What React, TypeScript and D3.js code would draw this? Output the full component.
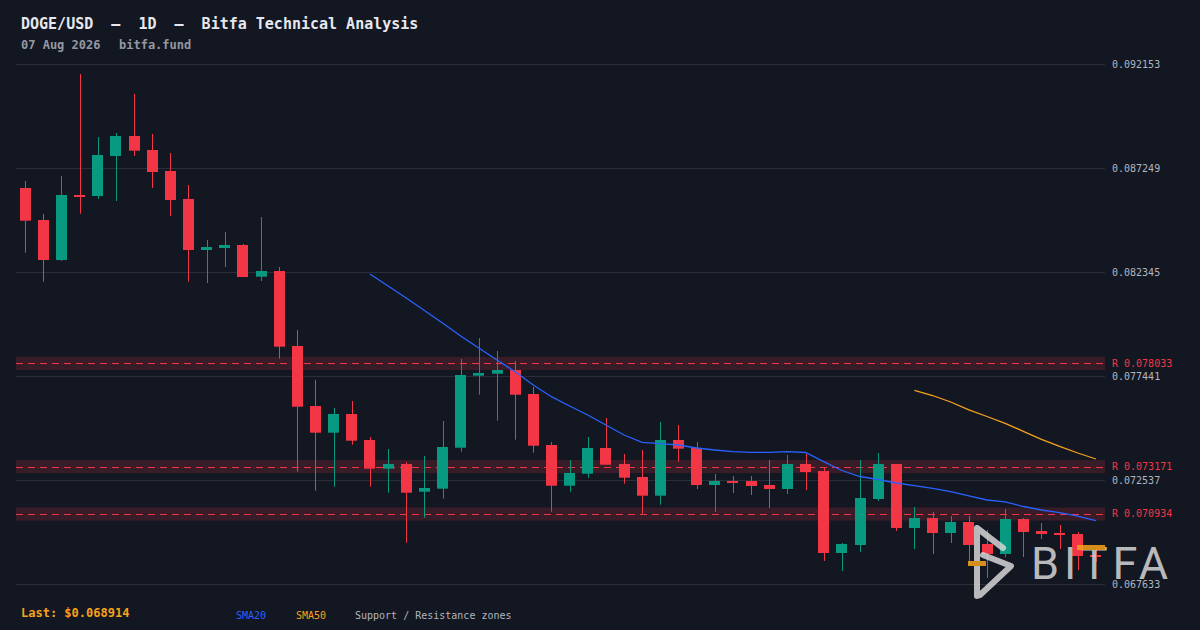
import React, { useEffect, useRef } from 'react';
import * as d3 from 'd3';

// daily candles [open, high, low, close]
const candles: [number, number, number, number][] = [
  [0.086306, 0.086636, 0.083255, 0.084764],
  [0.084797, 0.08508, 0.081888, 0.082911],
  [0.082911, 0.086872, 0.082864, 0.085976],
  [0.085976, 0.091681, 0.085094, 0.085896],
  [0.085929, 0.088711, 0.085787, 0.087862],
  [0.087815, 0.088899, 0.085693, 0.088758],
  [0.088758, 0.090738, 0.087815, 0.088065],
  [0.088098, 0.088852, 0.086306, 0.08706],
  [0.087108, 0.087956, 0.084986, 0.08574],
  [0.085787, 0.086447, 0.081888, 0.083382],
  [0.083382, 0.083854, 0.081826, 0.083524],
  [0.083477, 0.084231, 0.082581, 0.083618],
  [0.083618, 0.083665, 0.0821, 0.082109],
  [0.082123, 0.084938, 0.081921, 0.082392],
  [0.082392, 0.082581, 0.078257, 0.078823],
  [0.078856, 0.07961, 0.072928, 0.075993],
  [0.076026, 0.077252, 0.072032, 0.074768],
  [0.074768, 0.075932, 0.072221, 0.075649],
  [0.075649, 0.076262, 0.074202, 0.07439],
  [0.074423, 0.074565, 0.072221, 0.07307],
  [0.07307, 0.073999, 0.071938, 0.073291],
  [0.073291, 0.073386, 0.069581, 0.071938],
  [0.071985, 0.073669, 0.070759, 0.07216],
  [0.072127, 0.075319, 0.071655, 0.074093],
  [0.07406, 0.078243, 0.073871, 0.077488],
  [0.077455, 0.079233, 0.076559, 0.077582],
  [0.077549, 0.07862, 0.075333, 0.077724],
  [0.077724, 0.078148, 0.074437, 0.076559],
  [0.076592, 0.076922, 0.073824, 0.074154],
  [0.074187, 0.074329, 0.071042, 0.072268],
  [0.072268, 0.07348, 0.071985, 0.072867],
  [0.072834, 0.074565, 0.072646, 0.074046],
  [0.074046, 0.075461, 0.07324, 0.073258],
  [0.073291, 0.073763, 0.072363, 0.072646],
  [0.072679, 0.073952, 0.070948, 0.071797],
  [0.071797, 0.075272, 0.071372, 0.074423],
  [0.074423, 0.07513, 0.0734, 0.074013],
  [0.074046, 0.074329, 0.072113, 0.072301],
  [0.072301, 0.07282, 0.071028, 0.07249],
  [0.07249, 0.072726, 0.071924, 0.072396],
  [0.07249, 0.072726, 0.07183, 0.072254],
  [0.072301, 0.07348, 0.071217, 0.072113],
  [0.072113, 0.073716, 0.071877, 0.073291],
  [0.073291, 0.073763, 0.072065, 0.072914],
  [0.072961, 0.07315, 0.068718, 0.069095],
  [0.069095, 0.069566, 0.068246, 0.069519],
  [0.069472, 0.07348, 0.069142, 0.071688],
  [0.071641, 0.07381, 0.071547, 0.073291],
  [0.073291, 0.0733, 0.070132, 0.070274],
  [0.070274, 0.071264, 0.069283, 0.070745],
  [0.070745, 0.071028, 0.069048, 0.070038],
  [0.070038, 0.070839, 0.069566, 0.070557],
  [0.070557, 0.070839, 0.068529, 0.069472],
  [0.069519, 0.070179, 0.067916, 0.069048],
  [0.069048, 0.071169, 0.0689, 0.070698],
  [0.070698, 0.070745, 0.068906, 0.070085],
  [0.070132, 0.070509, 0.069755, 0.069991],
  [0.070038, 0.070415, 0.069283, 0.069944],
  [0.069991, 0.070085, 0.068293, 0.068953],
  [0.069, 0.069331, 0.06867, 0.068914],
];

const sma20Start = 19;
const sma20 = [
  0.082251, 0.081685, 0.081119, 0.08053, 0.07994, 0.079327, 0.078761, 0.078195,
  0.077644, 0.077017, 0.076465, 0.076026, 0.075602, 0.07513, 0.074659, 0.074315,
  0.074249, 0.074187, 0.074046, 0.073952, 0.073871, 0.073843, 0.073843, 0.073871,
  0.073834, 0.0734, 0.072985, 0.072702, 0.07256, 0.072396, 0.072268, 0.072146,
  0.071985, 0.071783, 0.071594, 0.071509, 0.071287, 0.071122, 0.071, 0.070839,
  0.070618,
];

const sma50Start = 49;
const sma50 = [
  0.076767, 0.076521, 0.076215, 0.075847, 0.075531, 0.075211, 0.074833, 0.074456,
  0.074126, 0.07381, 0.073527,
];

const resistance = [0.078033, 0.073171, 0.070934];
const priceTicks = [0.067633, 0.072537, 0.077441, 0.082345, 0.087249, 0.092153];
const lastPrice = 0.068914;

const title = 'DOGE/USD  –  1D  –  Bitfa Technical Analysis';
const dateLabel = '07 Aug 2026';
const siteLabel = 'bitfa.fund';

const MONO = '"DejaVu Sans Mono", monospace';
const GREEN = '#089981';
const RED = '#f23645';
const BLUE = '#2962ff';
const ORANGE = '#f7a21b';

export default function App() {
  const svgRef = useRef<SVGSVGElement>(null);

  useEffect(() => {
    if (!svgRef.current) return;
    const W = 1200;
    const H = 630;
    const left = 16;
    const right = 1105;
    const top = 64;
    const bottom = 584;

    const svg = d3.select(svgRef.current);
    svg.selectAll('*').remove();

    svg.append('rect').attr('width', W).attr('height', H).attr('fill', '#131722');

    const x = d3.scaleBand<number>()
      .domain(d3.range(candles.length))
      .range([left, right])
      .paddingInner(0.4)
      .paddingOuter(0.2);
    const cx = (i: number) => (x(i) as number) + x.bandwidth() / 2;

    const y = d3.scaleLinear()
      .domain([priceTicks[0], priceTicks[priceTicks.length - 1]])
      .range([bottom, top]);

    // grid + right price axis
    const axis = svg.append('g')
      .attr('transform', `translate(${right},0)`)
      .call(d3.axisRight(y).tickValues(priceTicks).tickSize(-(right - left)).tickPadding(7).tickFormat(d3.format('.6f')))
      .attr('font-family', MONO)
      .attr('font-size', 10);
    axis.select('.domain').remove();
    axis.selectAll('line').attr('stroke', '#2a2e39');
    axis.selectAll('text').attr('fill', '#b2b5be');

    // resistance zones
    const zoneHalf = 0.00031;
    resistance.forEach((r) => {
      svg.append('rect')
        .attr('x', left)
        .attr('width', right - left)
        .attr('y', y(r + zoneHalf))
        .attr('height', y(r - zoneHalf) - y(r + zoneHalf))
        .attr('fill', RED)
        .attr('fill-opacity', 0.17);
      svg.append('line')
        .attr('x1', left)
        .attr('x2', right)
        .attr('y1', Math.round(y(r)) + 0.5)
        .attr('y2', Math.round(y(r)) + 0.5)
        .attr('stroke', RED)
        .attr('stroke-width', 1)
        .attr('stroke-dasharray', '7 5');
      svg.append('text')
        .attr('x', right + 7)
        .attr('y', y(r))
        .attr('dy', '0.32em')
        .attr('font-family', MONO)
        .attr('font-size', 10)
        .attr('fill', RED)
        .text(`R ${r.toFixed(6)}`);
    });

    // candles
    const bw = x.bandwidth();
    candles.forEach(([o, h, l, c], i) => {
      const col = c >= o ? GREEN : RED;
      const wx = Math.round(cx(i)) + 0.5;
      svg.append('line')
        .attr('x1', wx).attr('x2', wx)
        .attr('y1', y(h)).attr('y2', y(l))
        .attr('stroke', col)
        .attr('stroke-width', 1);
      const yTop = y(Math.max(o, c));
      const yBot = y(Math.min(o, c));
      svg.append('rect')
        .attr('x', Math.round(x(i) as number))
        .attr('width', Math.round(bw))
        .attr('y', yTop)
        .attr('height', Math.max(2, yBot - yTop))
        .attr('fill', col);
    });

    // moving averages
    const lineGen = (start: number) => d3.line<number>()
      .x((_, k) => cx(start + k))
      .y((v) => y(v));

    svg.append('path')
      .datum(sma20)
      .attr('fill', 'none')
      .attr('stroke', BLUE)
      .attr('stroke-width', 1.3)
      .attr('d', lineGen(sma20Start));

    svg.append('path')
      .datum(sma50)
      .attr('fill', 'none')
      .attr('stroke', ORANGE)
      .attr('stroke-width', 1.3)
      .attr('d', lineGen(sma50Start));

    // watermark logo
    const logo = svg.append('g').attr('opacity', 0.85);
    logo.append('path')
      .attr('d', 'M977,528 L977,596 M977,528 L1003,548 M983,555 L1011,566 L980,595')
      .attr('fill', 'none')
      .attr('stroke', '#d6d6d6')
      .attr('stroke-width', 6)
      .attr('stroke-linecap', 'round')
      .attr('stroke-linejoin', 'round');
    logo.append('text')
      .attr('x', 1031)
      .attr('y', 579)
      .attr('font-family', 'Roboto, sans-serif')
      .attr('font-size', 45)
      .attr('fill', '#d6d6d6')
      .attr('textLength', 137)
      .attr('lengthAdjust', 'spacing')
      .text('BITFA');
    logo.append('rect').attr('x', 968).attr('y', 561).attr('width', 18).attr('height', 5).attr('fill', ORANGE);
    logo.append('rect').attr('x', 1077).attr('y', 545).attr('width', 28).attr('height', 5).attr('fill', ORANGE);

    // header
    svg.append('text')
      .attr('x', 21).attr('y', 29)
      .attr('font-family', MONO)
      .attr('font-size', 15)
      .attr('font-weight', 'bold')
      .attr('fill', '#e6e8ee')
      .style('white-space', 'pre')
      .text(title);
    svg.append('text')
      .attr('x', 21).attr('y', 49)
      .attr('font-family', MONO)
      .attr('font-size', 12)
      .attr('font-weight', 'bold')
      .attr('fill', '#9598a1')
      .text(dateLabel);
    svg.append('text')
      .attr('x', 119).attr('y', 49)
      .attr('font-family', MONO)
      .attr('font-size', 12)
      .attr('font-weight', 'bold')
      .attr('fill', '#9598a1')
      .text(siteLabel);

    // footer legend
    svg.append('text')
      .attr('x', 21).attr('y', 617)
      .attr('font-family', MONO)
      .attr('font-size', 12)
      .attr('font-weight', 'bold')
      .attr('fill', ORANGE)
      .text(`Last: $${lastPrice.toFixed(6)}`);
    const legend = [
      { label: 'SMA20', color: BLUE, x: 236 },
      { label: 'SMA50', color: ORANGE, x: 296 },
      { label: 'Support / Resistance zones', color: '#b2b5be', x: 355 },
    ];
    legend.forEach((d) => {
      svg.append('text')
        .attr('x', d.x).attr('y', 619)
        .attr('font-family', MONO)
        .attr('font-size', 10)
        .attr('fill', d.color)
        .text(d.label);
    });
  }, []);

  return (
    <svg
      ref={svgRef}
      width={1200}
      height={630}
      style={{ position: 'absolute', left: 0, top: 0, display: 'block' }}
    />
  );
}
